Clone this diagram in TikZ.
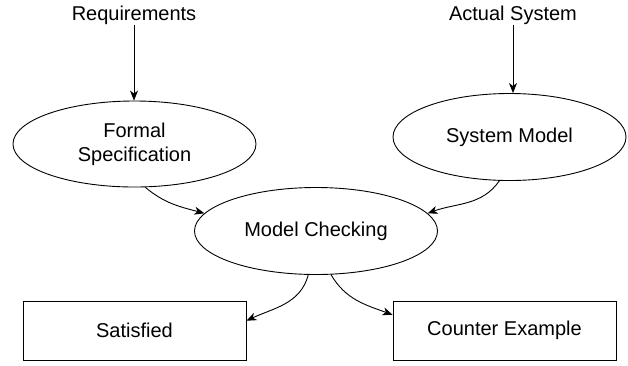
\documentclass[tikz,border=0pt]{standalone}
\usepackage{fontspec}
\setmainfont{Liberation Sans}
\usetikzlibrary{arrows.meta,shapes.geometric}

\tikzset{
  every node/.style={font=\fontsize{20}{24}\selectfont},
  lbl/.style={inner sep=0pt},
  oval/.style={draw, ellipse, line width=0.9pt, inner sep=0pt, align=center},
  outbox/.style={draw, rectangle, line width=0.9pt, inner sep=0pt},
  arr/.style={line width=0.9pt, -{Stealth[length=10pt,width=8pt,inset=3pt]}}
}

\begin{document}
\begin{tikzpicture}[x=1pt, y=-1pt]
  \useasboundingbox (0,0) rectangle (628,365);

  % inputs
  \node[lbl] (req) at (134,15) {Requirements};
  \node[lbl] (act) at (513,15) {Actual System};

  % models
  \node[oval, minimum width=243pt, minimum height=86pt] (formal) at (134.5,144) {Formal\\Specification};
  \node[oval, minimum width=233pt, minimum height=87pt] (sys) at (509.5,137) {System Model};
  \node[oval, minimum width=243pt, minimum height=87pt] (mc) at (316,231) {Model Checking};

  % outcomes
  \node[outbox, minimum width=223pt, minimum height=59pt] (sat) at (134.5,330.5) {Satisfied};
  \node[outbox, minimum width=223pt, minimum height=59pt] (ce) at (504.5,330.5) {Counter Example};

  % connectors
  \draw[arr] (req) -- (req |- formal.north);
  \draw[arr] (act) -- (act |- sys.north);
  \draw[arr] (formal.-76) to[out=-40, in=165] (mc.171);
  \draw[arr] (sys.-103) to[out=-125, in=20] (mc.9);
  \draw[arr] (mc.-100) to[out=-105, in=25] (sat.5.4);
  \draw[arr] (mc.-71) to[out=-60, in=160] (ce.172.6);
\end{tikzpicture}
\end{document}
